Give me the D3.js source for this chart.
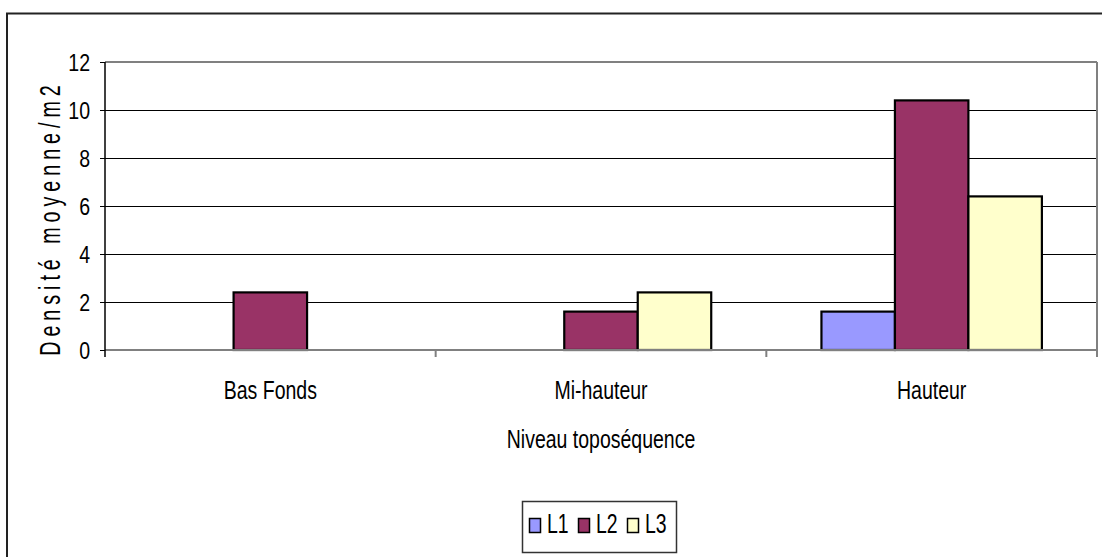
<!DOCTYPE html>
<html>
<head>
<meta charset="utf-8">
<script src="https://cdn.jsdelivr.net/npm/d3@7/dist/d3.min.js"></script>
<style>
  html, body { margin: 0; padding: 0; background: #fff; overflow: hidden; }
  svg text { font-family: "Liberation Sans", Arial, sans-serif; fill: #000; }
</style>
</head>
<body>
<svg id="chart" width="1102" height="557"></svg>
<script>
// Mean density per m² by toposequence level, for three lines L1–L3
const categories = ["Bas Fonds", "Mi-hauteur", "Hauteur"];
const seriesNames = ["L1", "L2", "L3"];
const L1 = [0, 0, 1.6];
const L2 = [2.4, 1.6, 10.4];
const L3 = [0, 2.4, 6.4];
const yTicks = [0, 2, 4, 6, 8, 10, 12];
const colors = ["#9999FF", "#993366", "#FFFFCC"];

const seriesValues = [L1, L2, L3];

const svg = d3.select("#chart");
const plot = { left: 105, right: 1097, top: 62, bottom: 350 };

// condensed text: horizontal squeeze around the anchor point
function placeText(sel, x, y, sx, rot) {
  sel.attr("x", 0).attr("y", 0)
    .attr("transform", `translate(${x},${y})${rot ? ` rotate(${rot})` : ""} scale(${sx},1)`);
  return sel;
}

// outer chart frame (runs off the right and bottom edges)
svg.append("rect")
  .attr("x", 7).attr("y", 13.5)
  .attr("width", 1200).attr("height", 600)
  .attr("fill", "none").attr("stroke", "#222").attr("stroke-width", 2);

const y = d3.scaleLinear().domain([0, 12]).range([plot.bottom, plot.top]);
const x0 = d3.scaleBand().domain(categories).range([plot.left, plot.right]).padding(0);
const x1 = d3.scaleBand().domain(seriesNames).range([0, x0.bandwidth()])
  .paddingInner(0).paddingOuter(0.75);

// horizontal gridlines
svg.append("g").selectAll("line")
  .data(yTicks.filter(t => t > 0 && t < 12))
  .join("line")
  .attr("x1", plot.left).attr("x2", plot.right)
  .attr("y1", d => Math.round(y(d)) + 0.5).attr("y2", d => Math.round(y(d)) + 0.5)
  .attr("stroke", "#000").attr("stroke-width", 1);

// plot area border (top and right) in grey
svg.append("line")
  .attr("x1", plot.left).attr("x2", plot.right)
  .attr("y1", y(12)).attr("y2", y(12))
  .attr("stroke", "#808080").attr("stroke-width", 2);
svg.append("line")
  .attr("x1", plot.right).attr("x2", plot.right)
  .attr("y1", y(12)).attr("y2", plot.bottom + 7)
  .attr("stroke", "#808080").attr("stroke-width", 2);

// bars
const data = [];
categories.forEach((c, i) => {
  seriesNames.forEach((s, j) => {
    data.push({ cat: c, series: s, value: seriesValues[j][i], color: colors[j] });
  });
});

svg.append("g").selectAll("rect")
  .data(data.filter(d => d.value > 0))
  .join("rect")
  .attr("x", d => x0(d.cat) + x1(d.series))
  .attr("y", d => y(d.value))
  .attr("width", x1.bandwidth())
  .attr("height", d => y(0) - y(d.value))
  .attr("fill", d => d.color)
  .attr("stroke", "#000").attr("stroke-width", 2.2);

// category axis (grey) with ticks between categories
const xAxisG = svg.append("g");
xAxisG.append("line")
  .attr("x1", plot.left).attr("x2", plot.right)
  .attr("y1", y(0)).attr("y2", y(0))
  .attr("stroke", "#808080").attr("stroke-width", 2);
xAxisG.selectAll("line.tick")
  .data(categories.slice(1))
  .join("line")
  .attr("class", "tick")
  .attr("x1", d => x0(d)).attr("x2", d => x0(d))
  .attr("y1", y(0)).attr("y2", y(0) + 7)
  .attr("stroke", "#808080").attr("stroke-width", 2);
xAxisG.selectAll("text")
  .data(categories)
  .join("text")
  .attr("text-anchor", "middle")
  .attr("font-size", 25)
  .text(d => d)
  .each(function (d) {
    placeText(d3.select(this), x0(d) + x0.bandwidth() / 2, 399, 0.78);
  });

// value axis
const ySx = 0.85;
const yAxis = d3.axisLeft(y).tickValues(yTicks).tickSize(5).tickPadding(15).tickFormat(d3.format("d"));
const yAxisG = svg.append("g")
  .attr("transform", `translate(${plot.left},0)`)
  .call(yAxis);
yAxisG.select(".domain").remove();
yAxisG.append("line")
  .attr("x1", 0).attr("x2", 0)
  .attr("y1", y(12)).attr("y2", plot.bottom + 7)
  .attr("stroke", "#000").attr("stroke-width", 1.5);
yAxisG.selectAll(".tick line").attr("stroke", "#000");
yAxisG.selectAll(".tick text")
  .attr("font-size", 23)
  .attr("font-family", null)
  .attr("fill", "#000")
  .attr("dy", "0.36em")
  .attr("x", -15 / ySx)
  .attr("transform", `scale(${ySx},1)`);

// axis titles
const yTitle = svg.append("text")
  .attr("text-anchor", "middle")
  .attr("font-size", 29)
  .attr("letter-spacing", 7.3)
  .text("Densité moyenne/m2");
placeText(yTitle, 60, 218, 0.68, -90);

const xTitle = svg.append("text")
  .attr("text-anchor", "middle")
  .attr("font-size", 25)
  .text("Niveau toposéquence");
placeText(xTitle, (plot.left + plot.right) / 2, 448, 0.78);

// legend
const legend = svg.append("g");
legend.append("rect")
  .attr("x", 522.5).attr("y", 501.5)
  .attr("width", 154).attr("height", 51)
  .attr("fill", "#fff").attr("stroke", "#333").attr("stroke-width", 1.5);
const li = legend.selectAll("g.item")
  .data(seriesNames)
  .join("g")
  .attr("class", "item")
  .attr("transform", (d, i) => `translate(${529 + i * 49},0)`);
li.append("rect")
  .attr("x", 0.5).attr("y", 518.5)
  .attr("width", 11).attr("height", 14)
  .attr("fill", (d, i) => colors[i])
  .attr("stroke", "#000").attr("stroke-width", 1.5);
li.append("text")
  .attr("font-size", 27)
  .text(d => d)
  .each(function () {
    placeText(d3.select(this), 18, 533, 0.72);
  });
</script>
</body>
</html>
